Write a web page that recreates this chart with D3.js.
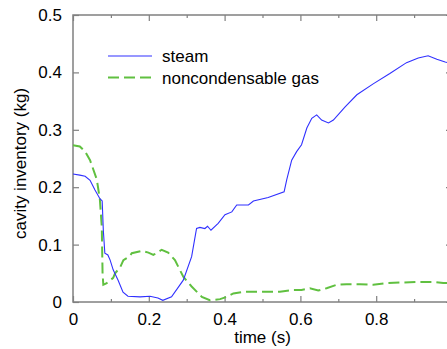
<!DOCTYPE html>
<html>
<head>
<meta charset="utf-8">
<script src="https://cdn.jsdelivr.net/npm/d3@7"></script>
<style>
  html, body { margin: 0; padding: 0; background: #fff; }
  svg { display: block; }
  text { font-family: "Liberation Sans", Arial, sans-serif; fill: #000; }
</style>
</head>
<body>
<svg id="chart"></svg>
<script>
// time (s) and cavity inventory (kg)
const steamTime = [0, 0.018, 0.032, 0.045, 0.058, 0.071, 0.077, 0.080, 0.084, 0.092, 0.098, 0.106, 0.119, 0.132, 0.145,
  0.177, 0.203, 0.224, 0.237, 0.260, 0.291, 0.313, 0.326, 0.335, 0.348, 0.355, 0.364, 0.383, 0.401, 0.419, 0.432,
  0.463, 0.476, 0.515, 0.557, 0.564, 0.577, 0.590, 0.603, 0.617, 0.630, 0.643, 0.656, 0.674, 0.687, 0.718, 0.749,
  0.792, 0.836, 0.880, 0.911, 0.937, 0.960, 0.982, 1.0];
const steamMass = [0.223, 0.221, 0.219, 0.212, 0.195, 0.180, 0.176, 0.125, 0.085, 0.082, 0.073, 0.056, 0.038, 0.017, 0.010,
  0.009, 0.010, 0.007, 0.003, 0.009, 0.038, 0.079, 0.128, 0.130, 0.128, 0.132, 0.125, 0.137, 0.152, 0.157, 0.169,
  0.169, 0.176, 0.182, 0.192, 0.213, 0.247, 0.262, 0.274, 0.303, 0.320, 0.326, 0.317, 0.312, 0.317, 0.340, 0.361,
  0.380, 0.398, 0.417, 0.425, 0.429, 0.423, 0.418, 0.415];

const gasTime = [0, 0.018, 0.032, 0.045, 0.063, 0.071, 0.076, 0.078, 0.080, 0.089, 0.093, 0.106, 0.111, 0.124, 0.133,
  0.150, 0.155, 0.181, 0.199, 0.212, 0.234, 0.251, 0.269, 0.291, 0.313, 0.340, 0.361, 0.388, 0.406, 0.423, 0.454,
  0.498, 0.546, 0.581, 0.603, 0.625, 0.647, 0.669, 0.696, 0.722, 0.757, 0.792, 0.828, 0.872, 0.911, 0.951, 0.977, 1.0];
const gasMass = [0.273, 0.271, 0.262, 0.247, 0.213, 0.178, 0.130, 0.050, 0.030, 0.033, 0.035, 0.042, 0.050, 0.060, 0.073,
  0.080, 0.085, 0.089, 0.086, 0.082, 0.091, 0.086, 0.073, 0.044, 0.027, 0.009, 0.003, 0.005, 0.009, 0.015, 0.018,
  0.018, 0.018, 0.021, 0.021, 0.024, 0.020, 0.024, 0.030, 0.031, 0.031, 0.030, 0.033, 0.034, 0.035, 0.035, 0.033, 0.033];

const xTicks = [0, 0.2, 0.4, 0.6, 0.8];
const xMinor = [0.1, 0.3, 0.5, 0.7, 0.9];
const yTicks = [0, 0.1, 0.2, 0.3, 0.4, 0.5];

const seriesNames = ["steam", "noncondensable gas"];
const seriesColors = ["#3030ff", "#60c040"];

const width = 447, height = 349;
const margin = { top: 15, right: -5, bottom: 47, left: 73 };

const svg = d3.select("#chart")
  .attr("width", width)
  .attr("height", height);

const x = d3.scaleLinear().domain([0, 1]).range([margin.left, width - margin.right]);
const y = d3.scaleLinear().domain([0, 0.5]).range([height - margin.bottom, margin.top]);

const axisColor = "#808080";

function styleAxis(g) {
  g.select(".domain").remove();
  g.selectAll(".tick line").attr("stroke", axisColor).attr("stroke-width", 1.2);
  g.selectAll("text").attr("font-size", 17).attr("fill", "#000");
}

// frame
svg.append("rect")
  .attr("x", x(0)).attr("y", y(0.5))
  .attr("width", x(1) - x(0)).attr("height", y(0) - y(0.5))
  .attr("fill", "none")
  .attr("stroke", axisColor)
  .attr("stroke-width", 1.5);

// bottom
svg.append("g")
  .attr("transform", `translate(0,${y(0)})`)
  .call(d3.axisBottom(x).tickValues(xTicks).tickFormat(d3.format("")).tickSizeInner(-6).tickSizeOuter(0).tickPadding(11))
  .call(styleAxis);
svg.append("g")
  .attr("transform", `translate(0,${y(0)})`)
  .call(d3.axisBottom(x).tickValues(xMinor).tickFormat("").tickSizeInner(-3).tickSizeOuter(0))
  .call(styleAxis);

// top
svg.append("g")
  .attr("transform", `translate(0,${y(0.5)})`)
  .call(d3.axisTop(x).tickValues(xTicks).tickFormat("").tickSizeInner(-6).tickSizeOuter(0))
  .call(styleAxis);
svg.append("g")
  .attr("transform", `translate(0,${y(0.5)})`)
  .call(d3.axisTop(x).tickValues(xMinor).tickFormat("").tickSizeInner(-3).tickSizeOuter(0))
  .call(styleAxis);

// left
svg.append("g")
  .attr("transform", `translate(${x(0)},0)`)
  .call(d3.axisLeft(y).tickValues(yTicks).tickFormat(d3.format("")).tickSizeInner(-6).tickSizeOuter(0).tickPadding(11))
  .call(styleAxis);

// right
svg.append("g")
  .attr("transform", `translate(${x(1)},0)`)
  .call(d3.axisRight(y).tickValues(yTicks).tickFormat("").tickSizeInner(-6).tickSizeOuter(0))
  .call(styleAxis);

// axis titles
svg.append("text")
  .attr("x", (x(0) + x(1)) / 2)
  .attr("y", 343)
  .attr("text-anchor", "middle")
  .attr("font-size", 17)
  .text("time (s)");

svg.append("text")
  .attr("transform", `translate(26,${(y(0) + y(0.5)) / 2 + 5}) rotate(-90)`)
  .attr("text-anchor", "middle")
  .attr("font-size", 17)
  .text("cavity inventory (kg)");

// curves
const line = d3.line().x(d => x(d[0])).y(d => y(d[1]));

svg.append("path")
  .datum(d3.zip(gasTime, gasMass))
  .attr("fill", "none")
  .attr("stroke", seriesColors[1])
  .attr("stroke-width", 2)
  .attr("stroke-dasharray", "11,5")
  .attr("d", line);

svg.append("path")
  .datum(d3.zip(steamTime, steamMass))
  .attr("fill", "none")
  .attr("stroke", seriesColors[0])
  .attr("stroke-width", 1.1)
  .attr("d", line);

// legend
const legend = svg.append("g").attr("transform", "translate(108,56)");
seriesNames.forEach((name, i) => {
  const row = legend.append("g").attr("transform", `translate(0,${i * 21.5})`);
  row.append("line")
    .attr("x1", 0).attr("x2", 44)
    .attr("stroke", seriesColors[i])
    .attr("stroke-width", i === 0 ? 1.1 : 2)
    .attr("stroke-dasharray", i === 0 ? null : "11,5");
  row.append("text")
    .attr("x", 54)
    .attr("y", 6)
    .attr("font-size", 17)
    .text(name);
});
</script>
</body>
</html>
